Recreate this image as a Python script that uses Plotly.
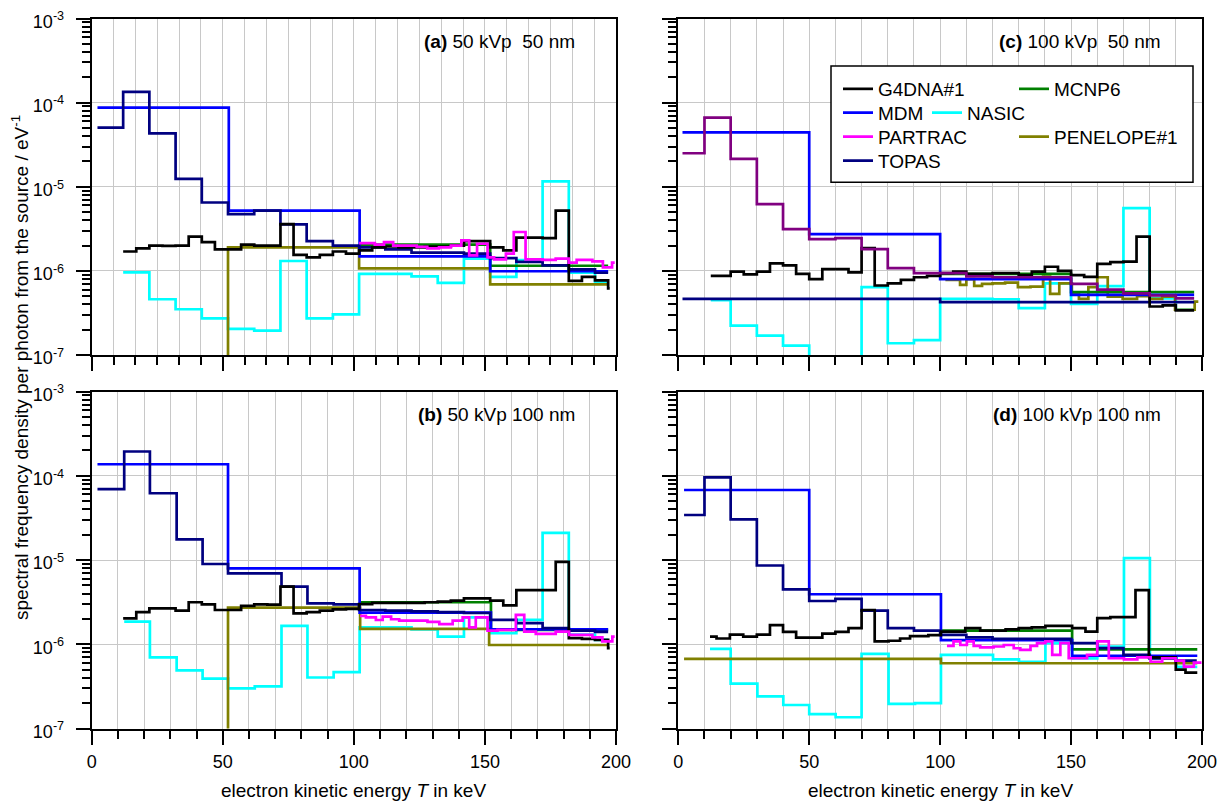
import plotly.graph_objects as go

# page body has an 8px margin; figure is sized so that it exactly fills the 1227x803 window
PAGE_W, PAGE_H, BODY = 1227, 803, 8
W, H = PAGE_W - BODY, PAGE_H - BODY
FONT = "Liberation Sans, Arial, sans-serif"

# ---------------- data (bin edges in keV, values in eV^-1) ----------------
# panel (a) 50 kVp 50 nm
A_G4DNA_E = [12, 17, 22, 27, 32, 37, 42, 47, 52, 57, 62, 67, 72, 77, 82, 87, 92, 97, 102, 107, 112, 117, 122, 127,
             132, 137, 142, 147, 152, 157, 162, 167, 172, 177, 182, 187, 192, 197, 197.6]
A_G4DNA_V = [1.7e-6, 1.85e-6, 2.0e-6, 1.98e-6, 2.0e-6, 2.55e-6, 2.2e-6, 1.8e-6, 1.8e-6, 2.05e-6, 2.0e-6, 2.0e-6,
             3.6e-6, 1.55e-6, 1.45e-6, 1.55e-6, 1.7e-6, 1.6e-6, 1.75e-6, 1.9e-6, 1.95e-6, 1.9e-6, 1.9e-6, 1.95e-6,
             1.95e-6, 2.0e-6, 2.26e-6, 2.26e-6, 1.9e-6, 1.75e-6, 2.48e-6, 2.48e-6, 2.45e-6, 5.2e-6, 7.6e-7, 8.5e-7,
             7.7e-7, 6.2e-7]
A_MCNP6_E = [102, 152, 197]
A_MCNP6_V = [2.05e-6, 1.15e-6]
A_MDM_E = [2.2, 52.3, 102.2, 152, 197]
A_MDM_V = [8.7e-5, 5.2e-6, 1.49e-6, 9.9e-7]
A_NASIC_E = [12, 22, 32, 42, 52, 62, 72, 82, 92, 102, 112, 122, 132, 142, 152, 162, 172, 182, 192, 197]
A_NASIC_V = [9.6e-7, 4.6e-7, 3.5e-7, 2.73e-7, 2.04e-7, 1.95e-7, 1.31e-6, 2.73e-7, 3.04e-7, 9.2e-7, 9.2e-7, 8.6e-7,
             7.2e-7, 1.4e-6, 8.5e-7, 1.34e-6, 1.16e-5, 9.5e-7, 7.3e-7]
A_PARTRAC_E = [102, 108, 111.5, 115, 124, 128, 132.5, 137, 141, 144, 147, 151, 153.5, 158, 161, 165.5, 172, 177, 182,
               185, 191, 195, 198.5, 199.5]
A_PARTRAC_V = [2.14e-6, 2.05e-6, 2.2e-6, 2.0e-6, 1.93e-6, 1.85e-6, 1.9e-6, 2.0e-6, 2.3e-6, 1.53e-6, 2.1e-6, 1.45e-6,
               1.37e-6, 1.6e-6, 2.9e-6, 1.37e-6, 1.35e-6, 1.4e-6, 1.25e-6, 1.35e-6, 1.3e-6, 1.1e-6, 1.25e-6]
A_PENELOPE_E = [2, 52, 102, 152, 197]
A_PENELOPE_V = [1e-9, 1.9e-6, 1.07e-6, 6.9e-7]
A_TOPAS_E = [2.2, 12, 22, 32, 42, 52, 62, 72, 82, 92, 102, 112, 122, 132, 142, 152, 162, 172, 182, 192, 197]
A_TOPAS_V = [5.05e-5, 1.34e-4, 4.3e-5, 1.24e-5, 6.5e-6, 4.74e-6, 5.2e-6, 3.57e-6, 2.26e-6, 2.0e-6, 1.9e-6, 1.8e-6,
             1.65e-6, 1.65e-6, 1.6e-6, 1.42e-6, 1.28e-6, 1.16e-6, 1.04e-6, 9.5e-7]

# panel (b) 50 kVp 100 nm
B_G4DNA_E = [12, 17, 22, 27, 32, 37, 42, 47, 52, 57, 62, 67, 72, 77, 82, 87, 92, 97, 102, 107, 112, 117, 122, 127,
             132, 137, 142, 147, 152, 157, 162, 167, 172, 177, 182, 187, 192, 197, 197.6]
B_G4DNA_V = [2.03e-6, 2.4e-6, 2.67e-6, 2.67e-6, 2.5e-6, 3.15e-6, 2.97e-6, 2.55e-6, 2.55e-6, 2.86e-6, 2.98e-6, 2.95e-6,
             4.83e-6, 2.33e-6, 2.4e-6, 2.5e-6, 2.6e-6, 2.63e-6, 3.0e-6, 3.1e-6, 3.1e-6, 3.1e-6, 3.1e-6, 3.15e-6,
             3.2e-6, 3.3e-6, 3.5e-6, 3.5e-6, 3.3e-6, 2.9e-6, 4.4e-6, 4.4e-6, 4.4e-6, 9.5e-6, 1.18e-6, 1.16e-6,
             1.13e-6, 9.0e-7]
B_MCNP6_E = [102.4, 152.3, 197]
B_MCNP6_V = [3.15e-6, 1.48e-6]
B_MDM_E = [2.2, 52, 102.2, 152.3, 197]
B_MDM_V = [1.37e-4, 7.96e-6, 2.37e-6, 1.5e-6]
B_NASIC_E = [12.4, 22.2, 32.4, 42.3, 52, 62.2, 72.4, 82.3, 92.3, 102.2, 112, 122, 132, 142, 152, 162, 172, 182, 192,
             197]
B_NASIC_V = [1.86e-6, 7.0e-7, 4.9e-7, 3.9e-7, 3.0e-7, 3.17e-7, 1.65e-6, 4.03e-7, 4.66e-7, 1.59e-6, 1.59e-6, 1.5e-6,
             1.23e-6, 2.09e-6, 1.35e-6, 1.95e-6, 2.1e-5, 1.3e-6, 1.13e-6]
B_PARTRAC_E = [102.4, 104.6, 108.4, 111, 114.2, 117.3, 128.1, 132.6, 137.7, 141.5, 144, 146.5, 151, 154.8, 161.8,
               165, 169.4, 177, 182.1, 191, 194.8, 198.6, 199.5]
B_PARTRAC_V = [2.17e-6, 2.09e-6, 1.94e-6, 2.13e-6, 1.98e-6, 1.91e-6, 1.84e-6, 1.73e-6, 1.91e-6, 2.09e-6, 1.59e-6,
               2.09e-6, 1.45e-6, 1.48e-6, 2.23e-6, 1.41e-6, 1.33e-6, 1.41e-6, 1.29e-6, 1.21e-6, 1.08e-6, 1.23e-6]
B_PENELOPE_E = [2, 52, 102.4, 151.6, 197]
B_PENELOPE_V = [1e-9, 2.72e-6, 1.52e-6, 9.8e-7]
B_TOPAS_E = [2.2, 12.4, 22.2, 32.4, 42.3, 52, 62, 72.4, 82.3, 92.3, 102, 112, 122, 132, 142, 152, 162, 172, 182, 192,
             197]
B_TOPAS_V = [6.95e-5, 1.94e-4, 6.2e-5, 1.76e-5, 8.97e-6, 6.95e-6, 6.95e-6, 4.83e-6, 3.06e-6, 2.97e-6, 2.55e-6,
             2.5e-6, 2.45e-6, 2.4e-6, 2.35e-6, 1.95e-6, 1.78e-6, 1.55e-6, 1.45e-6, 1.4e-6]

# panel (c) 100 kVp 50 nm
C_G4DNA_E = [12.4, 20, 25, 30, 35, 40, 45, 50, 55, 60, 65, 70, 75, 80, 85, 90, 95, 100, 105, 110, 120, 130, 135, 140,
             145, 150, 155, 160, 165, 170, 175, 180, 185, 190, 197]
C_G4DNA_V = [8.7e-7, 9.8e-7, 9.1e-7, 9.8e-7, 1.23e-6, 1.16e-6, 9.2e-7, 7.96e-7, 1.05e-6, 1.05e-6, 9.6e-7, 1.86e-6,
             6.7e-7, 7.1e-7, 7.8e-7, 8.4e-7, 8.7e-7, 9.4e-7, 9.8e-7, 9.2e-7, 9.4e-7, 8.9e-7, 9.8e-7, 1.12e-6, 1.0e-6,
             8.9e-7, 8.5e-7, 1.21e-6, 1.27e-6, 1.29e-6, 2.56e-6, 3.77e-7, 3.9e-7, 3.4e-7]
C_MCNP6_E = [100, 150, 197]
C_MCNP6_V = [9.2e-7, 5.58e-7]
C_MDM_E = [1.6, 50, 100, 150, 197]
C_MDM_V = [4.44e-5, 2.73e-6, 7.96e-7, 5.19e-7]
C_NASIC_E = [12.4, 20, 30, 40, 50, 60, 70, 80, 90, 100, 120, 130, 140, 150, 160, 170, 180, 190, 197]
C_NASIC_V = [4.5e-7, 2.24e-7, 1.7e-7, 1.29e-7, 9e-8, 9e-8, 6.4e-7, 1.38e-7, 1.5e-7, 4.65e-7, 4.6e-7, 3.6e-7, 7.1e-7,
             4.06e-7, 6.6e-7, 5.56e-6, 4.7e-7, 3.45e-7]
C_PURPLE_E = [1.6, 10, 20, 30, 40, 50, 60, 70, 80, 90, 100, 110, 120, 150, 160, 170, 180, 190, 197]
C_PURPLE_V = [2.5e-5, 6.64e-5, 2.14e-5, 6.2e-6, 3.13e-6, 2.38e-6, 2.45e-6, 1.81e-6, 1.08e-6, 9.4e-7, 9.4e-7, 8.6e-7,
              8.4e-7, 7.0e-7, 6.0e-7, 5.4e-7, 5.1e-7, 4.7e-7]
C_PENELOPE_E = [102, 107.6, 110, 113, 116, 120, 124.8, 129.7, 134.5, 139.3, 142, 145.5, 150.3, 153, 156.6, 160, 164,
                169.7, 175.2, 180, 184.8, 189.7, 197.2, 198.6]
C_PENELOPE_V = [7.8e-7, 6.82e-7, 7.96e-7, 6.64e-7, 7.0e-7, 7.1e-7, 7.25e-7, 6.4e-7, 6.5e-7, 8.57e-7, 5.33e-7, 7.1e-7,
                5.4e-7, 4.65e-7, 6.4e-7, 8.4e-7, 4.95e-7, 4.65e-7, 5.0e-7, 4.65e-7, 4.95e-7, 3.45e-7, 4.3e-7]
C_TOPAS_E = [1.6, 100, 197]
C_TOPAS_V = [4.64e-7, 4.25e-7]

# panel (d) 100 kVp 100 nm
D_G4DNA_E = [12.1, 14.6, 19.7, 24.8, 30, 35, 40, 45, 50, 55, 60, 65, 70, 75, 80.3, 84.7, 88.5, 95.5, 100.3, 109.6,
             115.3, 125, 130, 135, 140.2, 150.4, 155.5, 160, 165, 174.6, 179.7, 190, 193.7, 198.2]
D_G4DNA_V = [1.23e-6, 1.17e-6, 1.3e-6, 1.23e-6, 1.3e-6, 1.69e-6, 1.4e-6, 1.2e-6, 1.2e-6, 1.34e-6, 1.4e-6, 1.55e-6,
             2.55e-6, 1.08e-6, 1.1e-6, 1.17e-6, 1.25e-6, 1.28e-6, 1.41e-6, 1.55e-6, 1.45e-6, 1.5e-6, 1.55e-6, 1.59e-6,
             1.65e-6, 1.55e-6, 1.41e-6, 2.04e-6, 2.1e-6, 4.4e-6, 7.0e-7, 5.0e-7, 4.6e-7]
D_MCNP6_E = [100.3, 150.4, 198.2]
D_MCNP6_V = [1.45e-6, 8.7e-7]
D_MDM_E = [2.2, 50, 100.3, 150.4, 198.2]
D_MDM_V = [6.77e-5, 3.92e-6, 1.12e-6, 7.3e-7]
D_NASIC_E = [12.1, 20, 30.2, 40.1, 50, 60.1, 70, 80.3, 90.4, 100.3, 120.2, 130.1, 140.2, 150.4, 160, 170.2, 180.1,
             190.3, 198.2]
D_NASIC_V = [8.8e-7, 3.4e-7, 2.4e-7, 1.9e-7, 1.48e-7, 1.36e-7, 7.7e-7, 1.96e-7, 2.0e-7, 7.5e-7, 6.6e-7, 6.2e-7,
             1.03e-6, 6.8e-7, 9.4e-7, 1.05e-5, 6.8e-7, 5.4e-7]
D_PARTRAC_E = [102.6, 105.1, 107.7, 110.2, 112.8, 115.3, 120.4, 124.3, 128.1, 130.6, 134.5, 137, 140.2, 142.8, 145.9,
               149.1, 156.1, 160, 164.4, 170.2, 175.3, 180.4, 184.8, 189.9, 193.1, 196.9, 199.8]
D_PARTRAC_V = [9.55e-7, 1.08e-6, 9.8e-7, 1.08e-6, 9.55e-7, 9.2e-7, 9.4e-7, 9.8e-7, 8.97e-7, 8.57e-7, 9.55e-7,
               1.03e-6, 1.08e-6, 7.48e-7, 1.03e-6, 6.82e-7, 7.48e-7, 1.08e-6, 6.82e-7, 6.6e-7, 7.0e-7, 6.2e-7,
               6.82e-7, 6.4e-7, 5.43e-7, 6.05e-7]
D_PENELOPE_E = [2.2, 100.3, 198.2]
D_PENELOPE_V = [6.7e-7, 5.95e-7]
D_TOPAS_E = [2.2, 10, 20, 30, 40, 50, 60, 70, 80, 90, 100, 110, 120, 150, 160, 170, 180, 190, 198]
D_TOPAS_V = [3.42e-5, 9.55e-5, 3.03e-5, 8.6e-6, 4.49e-6, 3.26e-6, 3.45e-6, 2.51e-6, 1.55e-6, 1.45e-6, 1.29e-6,
             1.21e-6, 1.16e-6, 1.03e-6, 9.0e-7, 7.5e-7, 6.8e-7, 6.4e-7]

# axis ticks / labels
X_RANGE = [0, 200]
Y_TICKS = [1e-7, 1e-6, 1e-5, 1e-4, 1e-3]
Y_TICK_TEXT = ["10<sup>-7</sup>", "10<sup>-6</sup>", "10<sup>-5</sup>", "10<sup>-4</sup>", "10<sup>-3</sup>"]
Y_MINOR = [k * d for d in [1e-7, 1e-6, 1e-5, 1e-4] for k in range(2, 10)]
PANEL_LABELS = {
    "a": "<b>(a)</b> 50 kVp\u00a0\u00a050 nm",
    "b": "<b>(b)</b> 50 kVp 100 nm",
    "c": "<b>(c)</b> 100 kVp\u00a0\u00a050 nm",
    "d": "<b>(d)</b> 100 kVp 100 nm",
}
X_TITLE = "electron kinetic energy <i>T</i> in keV"
Y_TITLE = "spectral frequency density per photon from the source / eV<sup>-1</sup>"

COLORS = {"G4DNA#1": "#000000", "MCNP6": "#008000", "MDM": "#0000FF", "NASIC": "#00FFFF",
          "PARTRAC": "#FF00FF", "PENELOPE#1": "#808000", "TOPAS": "#000080", "purple": "#800080"}
# legend row, rank within row, width of entry text slot (px)
LEGEND_OF = {"G4DNA#1": ("legend", 1, 131), "MCNP6": ("legend", 2, 90), "MDM": ("legend2", 1, 44),
             "NASIC": ("legend2", 2, 70), "PARTRAC": ("legend3", 1, 131), "PENELOPE#1": ("legend3", 2, 120),
             "TOPAS": ("legend4", 1, 80), "purple": ("legend4", 9, 80)}

PANELS = {
    "a": ("x", "y", [("NASIC", A_NASIC_E, A_NASIC_V), ("PENELOPE#1", A_PENELOPE_E, A_PENELOPE_V),
                     ("MCNP6", A_MCNP6_E, A_MCNP6_V), ("MDM", A_MDM_E, A_MDM_V), ("TOPAS", A_TOPAS_E, A_TOPAS_V),
                     ("G4DNA#1", A_G4DNA_E, A_G4DNA_V), ("PARTRAC", A_PARTRAC_E, A_PARTRAC_V)]),
    "c": ("x2", "y2", [("NASIC", C_NASIC_E, C_NASIC_V), ("PENELOPE#1", C_PENELOPE_E, C_PENELOPE_V),
                       ("MCNP6", C_MCNP6_E, C_MCNP6_V), ("MDM", C_MDM_E, C_MDM_V), ("TOPAS", C_TOPAS_E, C_TOPAS_V),
                       ("G4DNA#1", C_G4DNA_E, C_G4DNA_V), ("purple", C_PURPLE_E, C_PURPLE_V)]),
    "b": ("x3", "y3", [("NASIC", B_NASIC_E, B_NASIC_V), ("PENELOPE#1", B_PENELOPE_E, B_PENELOPE_V),
                       ("MCNP6", B_MCNP6_E, B_MCNP6_V), ("MDM", B_MDM_E, B_MDM_V), ("TOPAS", B_TOPAS_E, B_TOPAS_V),
                       ("G4DNA#1", B_G4DNA_E, B_G4DNA_V), ("PARTRAC", B_PARTRAC_E, B_PARTRAC_V)]),
    "d": ("x4", "y4", [("NASIC", D_NASIC_E, D_NASIC_V), ("PENELOPE#1", D_PENELOPE_E, D_PENELOPE_V),
                       ("MCNP6", D_MCNP6_E, D_MCNP6_V), ("MDM", D_MDM_E, D_MDM_V), ("TOPAS", D_TOPAS_E, D_TOPAS_V),
                       ("G4DNA#1", D_G4DNA_E, D_G4DNA_V), ("PARTRAC", D_PARTRAC_E, D_PARTRAC_V)]),
}


def px_x(p):
    return (p - BODY) / W


def px_y(p):
    return 1 - (p - BODY) / H


fig = go.Figure()
shown = set()
for key in ["a", "c", "b", "d"]:
    xa, ya, series = PANELS[key]
    for name, edges, vals in series:
        leg, rank, lw = LEGEND_OF[name]
        show = name not in shown and name != "purple"
        shown.add(name)
        fig.add_trace(go.Scatter(
            x=edges, y=list(vals) + [vals[-1]], mode="lines", line_shape="hv",
            line=dict(color=COLORS[name], width=2.7), name=name, xaxis=xa, yaxis=ya,
            showlegend=show, legend=leg, legendrank=rank, legendwidth=lw, hoverinfo="skip"))

XL = [px_x(91.7), px_x(616)]
XR = [px_x(678.3), px_x(1202)]
YT = [px_y(355), px_y(18.5)]
YB = [px_y(728.5), px_y(391.5)]

GRID = "#c8c8c8"


def xaxis(domain, anchor, labels, minor_dtick):
    return dict(domain=domain, anchor=anchor, range=X_RANGE, tickmode="linear", tick0=0, dtick=50,
                ticks="outside", ticklen=14, tickwidth=2, tickcolor="black",
                showline=True, linecolor="black", linewidth=2, mirror=True,
                showgrid=True, gridcolor=GRID, gridwidth=1, zeroline=False,
                showticklabels=labels, tickfont=dict(size=18, family=FONT, color="black"),
                ticklabelstandoff=2, automargin=False,
                minor=dict(tick0=0, dtick=minor_dtick, ticks="outside", ticklen=8, tickwidth=2,
                           tickcolor="black", showgrid=True, gridcolor=GRID, gridwidth=1))


def yaxis(domain, anchor, labels):
    return dict(domain=domain, anchor=anchor, type="log", range=[-7, -3], tickmode="array",
                tickvals=Y_TICKS, ticktext=Y_TICK_TEXT,
                ticks="outside", ticklen=14, tickwidth=2, tickcolor="black",
                showline=True, linecolor="black", linewidth=2, mirror=True,
                showgrid=True, gridcolor=GRID, gridwidth=1, zeroline=False,
                showticklabels=labels, tickfont=dict(size=18, family=FONT, color="black"),
                ticklabelstandoff=8, ticklabelshift=3, ticklabeloverflow="allow", automargin=False,
                minor=dict(tickmode="array", tickvals=Y_MINOR, ticks="outside", ticklen=8, tickwidth=2,
                           tickcolor="black", showgrid=False))


legend_common = dict(orientation="h", xanchor="left", yanchor="middle", entrywidthmode="pixels",
                     bgcolor="rgba(0,0,0,0)", borderwidth=0, itemwidth=30,
                     font=dict(size=19, family=FONT, color="black"))

fig.update_layout(
    width=W, height=H, margin=dict(l=0, r=0, t=0, b=0), autosize=False,
    paper_bgcolor="white", plot_bgcolor="white", template=None,
    font=dict(family=FONT, size=18, color="black"),
    xaxis=xaxis(XL, "y", False, 50 / 6), yaxis=yaxis(YT, "x", True),
    xaxis2=xaxis(XR, "y2", False, 10), yaxis2=yaxis(YT, "x2", False),
    xaxis3=xaxis(XL, "y3", True, 10), yaxis3=yaxis(YB, "x3", True),
    xaxis4=xaxis(XR, "y4", True, 10), yaxis4=yaxis(YB, "x4", False),
    legend=dict(x=px_x(838), y=px_y(89), **legend_common),
    legend2=dict(x=px_x(838), y=px_y(112.7), **legend_common),
    legend3=dict(x=px_x(838), y=px_y(136.7), **legend_common),
    legend4=dict(x=px_x(838), y=px_y(160.7), **legend_common),
    shapes=[dict(type="rect", xref="paper", yref="paper", x0=px_x(831), x1=px_x(1193),
                 y0=px_y(182.3), y1=px_y(66), line=dict(color="black", width=1.5),
                 fillcolor="white", layer="above")],
)

ann = []
for key, xr, ypix in [("a", 577, 41.7), ("c", 1163, 41.7), ("b", 577, 414.7), ("d", 1163, 414.7)]:
    ann.append(dict(text=PANEL_LABELS[key], xref="paper", yref="paper", x=px_x(xr), y=px_y(ypix),
                    xanchor="right", yanchor="middle", showarrow=False,
                    font=dict(size=19, family=FONT, color="black")))
for xc in [(91.7 + 616) / 2, (678.3 + 1202) / 2]:
    ann.append(dict(text=X_TITLE, xref="paper", yref="paper", x=px_x(xc), y=px_y(790),
                    xanchor="center", yanchor="middle", showarrow=False,
                    font=dict(size=19, family=FONT, color="black")))
ann.append(dict(text=Y_TITLE, xref="paper", yref="paper", x=px_x(20), y=px_y(368), textangle=-90,
                xanchor="center", yanchor="middle", showarrow=False,
                font=dict(size=19, family=FONT, color="black")))
fig.update_layout(annotations=ann)

fig.write_html("out.html")
